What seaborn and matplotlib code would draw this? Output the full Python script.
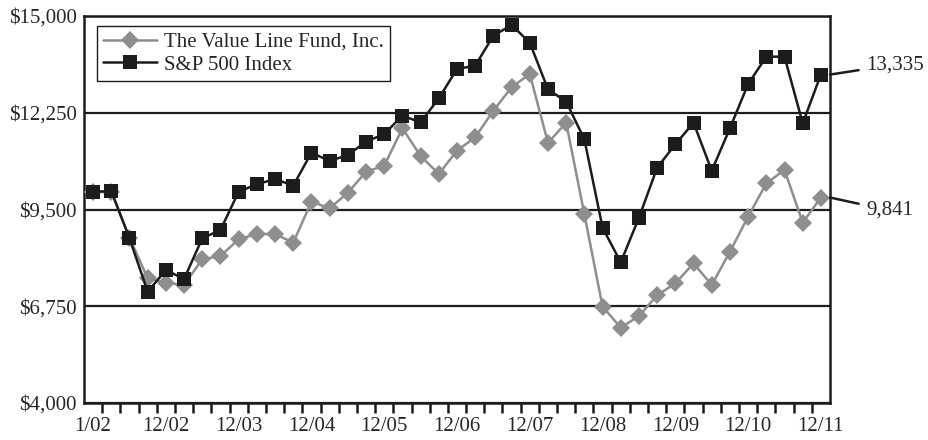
import matplotlib
matplotlib.use("Agg")
import matplotlib.pyplot as plt
from matplotlib.ticker import FixedLocator
import seaborn as sns
import pandas as pd

# quarterly values of a $10,000 investment, 12/01 .. 12/11
fund = [10000, 10000, 8700, 7544, 7420, 7354, 8084, 8178, 8653, 8804,
        8804, 8557, 9722, 9534, 9977, 10575, 10745, 11808, 11021, 10509,
        11172, 11552, 12309, 12974, 13352, 11399, 11967, 9363, 6738, 6141,
        6473, 7061, 7402, 7970, 7354, 8301, 9296, 10244, 10623, 9125, 9841]
sp500 = [10000, 10026, 8681, 7164, 7780, 7525, 8681, 8917, 10006, 10216,
         10367, 10177, 11115, 10879, 11049, 11427, 11646, 12166, 11978, 12660,
         13494, 13588, 14440, 14744, 14241, 12916, 12565, 11495, 8984, 7999,
         9267, 10689, 11353, 11967, 10603, 11808, 13067, 13844, 13844, 11950, 13335]
series_names = ["The Value Line Fund, Inc.", "S&P 500 Index"]
x_labels = ["1/02", "12/02", "12/03", "12/04", "12/05", "12/06",
            "12/07", "12/08", "12/09", "12/10", "12/11"]
y_ticks = [4000, 6750, 9500, 12250, 15000]
end_labels = ["13,335", "9,841"]

n = len(fund)
df = pd.DataFrame({
    "quarter": list(range(n)) * 2,
    "value": fund + sp500,
    "series": [series_names[0]] * n + [series_names[1]] * n,
})

sns.set_style("white")
plt.rcParams["font.family"] = ["Liberation Serif", "DejaVu Serif"]
plt.rcParams["font.size"] = 15

fig = plt.figure(figsize=(9.29, 4.40), dpi=100)
ax = fig.add_axes([84 / 929, 1 - 403 / 440, 746 / 929, 387 / 440])

sns.lineplot(data=df, x="quarter", y="value", hue="series", style="series",
             hue_order=series_names, style_order=series_names,
             palette={series_names[0]: "#8e8e8e", series_names[1]: "#1c1c1c"},
             markers={series_names[0]: "D", series_names[1]: "s"},
             dashes=False, markersize=9.5, markeredgewidth=0, linewidth=1.8,
             ax=ax, zorder=3)

ax.set_xlim(-0.5, n - 0.5)
ax.set_ylim(y_ticks[0], y_ticks[-1])
ax.set_yticks(y_ticks)
ax.set_yticklabels([f"${v:,}" for v in y_ticks])
ax.set_xticks(list(range(0, n, 4)))
ax.set_xticklabels(x_labels)
ax.xaxis.set_minor_locator(FixedLocator([i + 0.5 for i in range(n - 1)]))
ax.tick_params(axis="x", which="major", bottom=True, length=0, pad=10, labelsize=15)
ax.tick_params(axis="x", which="minor", bottom=True, length=7, width=1.8,
               direction="out", color="#1c1c1c")
ax.tick_params(axis="y", length=0, pad=5, labelsize=15)
ax.set_xlabel("")
ax.set_ylabel("")

ax.yaxis.grid(True, color="#1c1c1c", linewidth=1.6, zorder=1)
ax.set_axisbelow(True)
for sp in ax.spines.values():
    sp.set_color("#1c1c1c")
    sp.set_linewidth(1.8)

leg = ax.legend(loc="upper left", bbox_to_anchor=(0.0174, 0.974),
                borderaxespad=0, frameon=True, fancybox=False,
                edgecolor="#1c1c1c", framealpha=1, fontsize=15,
                handlelength=2.6, handletextpad=0.3, labelspacing=0.15,
                borderpad=0.3)
leg.get_frame().set_linewidth(1.0)

# end-value call-outs
for val, lab, dy in [(sp500[-1], end_labels[0], 10), (fund[-1], end_labels[1], -13)]:
    ax.annotate(lab, xy=(1.0, val), xycoords=("axes fraction", "data"),
                xytext=(36, dy), textcoords="offset pixels",
                ha="left", va="center", fontsize=15,
                arrowprops=dict(arrowstyle="-", color="#1c1c1c", lw=1.8,
                                shrinkA=3, shrinkB=0),
                annotation_clip=False)

fig.savefig("out.png", dpi=100)
